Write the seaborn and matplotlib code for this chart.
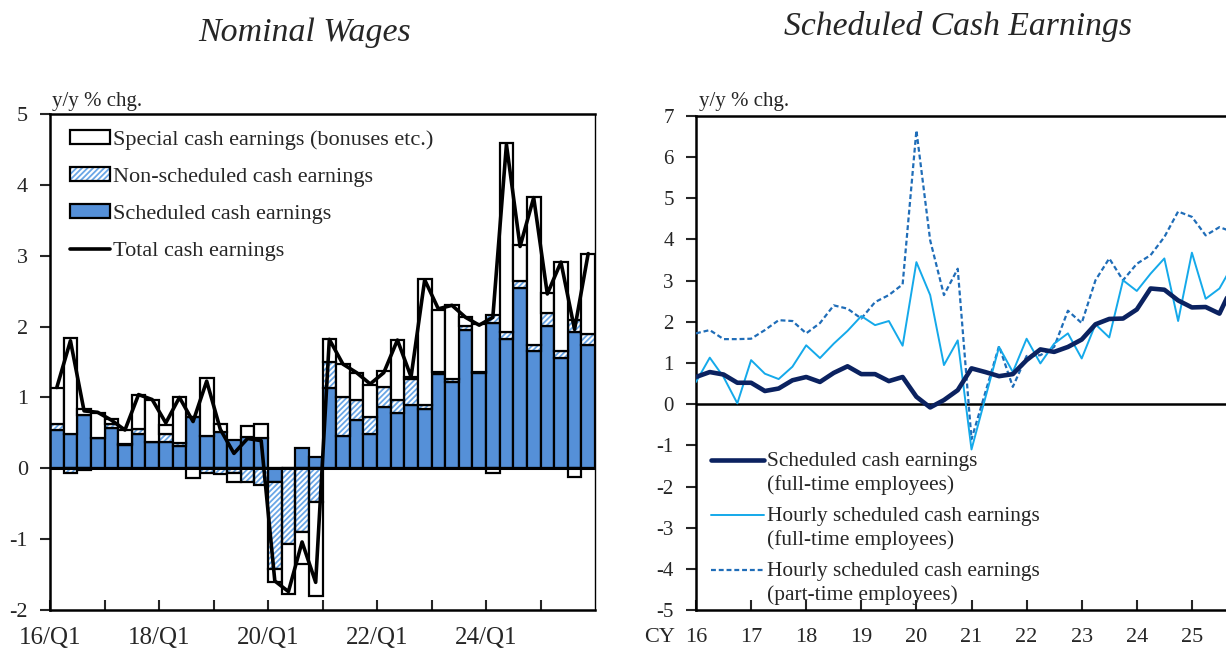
import numpy as np
import matplotlib
matplotlib.use("Agg")
import matplotlib.pyplot as plt
import seaborn as sns
from matplotlib.patches import Patch
from matplotlib.lines import Line2D
from matplotlib.legend_handler import HandlerLine2D, HandlerTuple

# ---- left panel: nominal wages, y/y % chg., quarterly 16/Q1 - 25/Q4
quarters = [f"{y}/Q{q}" for y in range(16, 26) for q in range(1, 5)]
scheduled = [0.54, 0.49, 0.75, 0.43, 0.57, 0.33, 0.49, 0.37, 0.37, 0.31,
             0.72, 0.46, 0.51, 0.40, 0.44, 0.43, -0.20, 0.00, 0.28, 0.16,
             1.14, 0.46, 0.68, 0.49, 0.87, 0.78, 0.90, 0.84, 1.33, 1.22,
             1.95, 1.35, 2.05, 1.83, 2.54, 1.65, 2.01, 1.56, 1.92, 1.74]
non_scheduled = [0.09, -0.07, -0.03, 0.00, 0.06, 0.01, 0.07, 0.00, 0.11, 0.05,
                 0.00, -0.06, -0.08, -0.06, -0.19, -0.24, -1.22, -1.07, -0.90, -0.48,
                 0.36, 0.54, 0.28, 0.23, 0.28, 0.18, 0.36, 0.06, 0.03, 0.04,
                 0.06, 0.01, 0.11, 0.10, 0.10, 0.09, 0.18, 0.10, 0.17, 0.15]
special = [0.50, 1.35, 0.08, 0.35, 0.06, 0.20, 0.47, 0.60, 0.13, 0.64,
           -0.14, 0.82, 0.12, -0.13, 0.16, 0.19, -0.19, -0.70, -0.45, -1.32,
           0.33, 0.47, 0.38, 0.46, 0.22, 0.85, 0.03, 1.77, 0.88, 1.04,
           0.12, 0.67, -0.07, 2.66, 0.51, 2.09, 0.28, 1.25, -0.12, 1.13]
total = [1.14, 1.80, 0.81, 0.79, 0.68, 0.54, 1.04, 0.97, 0.64, 1.00,
         0.66, 1.23, 0.55, 0.21, 0.42, 0.39, -1.59, -1.74, -1.04, -1.61,
         1.82, 1.47, 1.35, 1.19, 1.35, 1.81, 1.29, 2.66, 2.25, 2.30,
         2.13, 2.02, 2.13, 4.57, 3.13, 3.82, 2.46, 2.91, 1.96, 3.03]

# ---- right panel: scheduled cash earnings, quarterly CY16 Q1 - CY25 Q4
cal_years = list(range(16, 26))
sched_full = [0.66, 0.78, 0.72, 0.52, 0.52, 0.32, 0.38, 0.58, 0.66, 0.54,
              0.76, 0.92, 0.73, 0.73, 0.56, 0.66, 0.18, -0.08, 0.10, 0.34,
              0.87, 0.78, 0.68, 0.73, 1.07, 1.33, 1.27, 1.39, 1.57, 1.94,
              2.07, 2.08, 2.30, 2.81, 2.78, 2.52, 2.35, 2.36, 2.20, 2.90]
hourly_full = [0.54, 1.13, 0.66, 0.02, 1.07, 0.74, 0.61, 0.91, 1.43, 1.12,
               1.47, 1.78, 2.14, 1.92, 2.02, 1.42, 3.45, 2.65, 0.95, 1.55,
               -1.10, 0.15, 1.39, 0.78, 1.59, 0.99, 1.47, 1.72, 1.11, 1.94,
               1.62, 3.01, 2.75, 3.17, 3.54, 2.02, 3.68, 2.56, 2.81, 3.40]
hourly_part = [1.72, 1.80, 1.58, 1.58, 1.59, 1.80, 2.04, 2.02, 1.72, 1.97,
               2.40, 2.32, 2.08, 2.48, 2.65, 2.91, 6.65, 3.98, 2.65, 3.29,
               -0.85, 0.28, 1.41, 0.42, 1.17, 1.19, 1.39, 2.27, 1.97, 3.01,
               3.54, 3.01, 3.41, 3.62, 4.06, 4.68, 4.55, 4.10, 4.30, 4.18]

BAR_BLUE = "#5590d8"
HATCH_BLUE = "#6aa6e6"
NAVY = "#0b2260"
LIGHT = "#14a9ea"
MID = "#1f6db8"

sns.set_theme(style="white")
plt.rcParams["font.family"] = ["Liberation Serif", "DejaVu Serif"]
plt.rcParams["hatch.linewidth"] = 1.3
plt.rcParams["axes.edgecolor"] = "black"

fig = plt.figure(figsize=(12.26, 6.48), dpi=100)
ax1 = fig.add_axes([50 / 1226, 38 / 648, 545 / 1226, 496 / 648])
ax2 = fig.add_axes([696 / 1226, 38 / 648, 551 / 1226, 494 / 648])


def stack_bottoms(layers):
    pos = np.zeros(len(layers[0]))
    neg = np.zeros(len(layers[0]))
    out = []
    for v in layers:
        v = np.asarray(v, dtype=float)
        out.append(np.where(v >= 0, pos, neg))
        pos = pos + np.clip(v, 0, None)
        neg = neg + np.clip(v, None, 0)
    return out


x = np.arange(len(quarters))
b_s, b_n, b_x = stack_bottoms([scheduled, non_scheduled, special])

ax1.bar(x, scheduled, bottom=b_s, width=1.0, color=BAR_BLUE,
        edgecolor="black", linewidth=1.6, zorder=2)
ax1.bar(x, non_scheduled, bottom=b_n, width=1.0, color="white",
        edgecolor=HATCH_BLUE, hatch="//////", linewidth=0, zorder=2)
ax1.bar(x, non_scheduled, bottom=b_n, width=1.0, fill=False,
        edgecolor="black", linewidth=1.6, zorder=2)
ax1.bar(x, special, bottom=b_x, width=1.0, color="white",
        edgecolor="black", linewidth=1.6, zorder=2)
ax1.axhline(0, color="black", lw=2.2, zorder=3)
sns.lineplot(x=x, y=total, ax=ax1, color="black", lw=2.6, zorder=4)

ax1.set_xlim(-0.5, len(quarters) - 0.5)
ax1.set_ylim(-2, 5)
ax1.set_yticks(range(-2, 6))
ax1.set_yticklabels([str(v) for v in range(-2, 6)])
xt = np.arange(-0.5, len(quarters) - 1, 4)
ax1.set_xticks(xt)
ax1.set_xticklabels([quarters[int(t + 0.5)] if i % 2 == 0 else ""
                     for i, t in enumerate(xt)])

for sp in ["left", "bottom", "top"]:
    ax1.spines[sp].set_linewidth(1.8)
ax1.spines["right"].set_linewidth(1.0)
ax1.tick_params(axis="y", direction="out", length=7, width=1.5, pad=9,
                labelsize=16, left=True)
ax1.tick_params(axis="x", direction="in", length=7, width=1.5, pad=12.5,
                labelsize=18, bottom=True)

h_special = Patch(facecolor="white", edgecolor="black", linewidth=1.6)
h_non = (Patch(facecolor="white", edgecolor=HATCH_BLUE, hatch="//////", linewidth=0),
         Patch(fill=False, edgecolor="black", linewidth=1.6))
h_sched = Patch(facecolor=BAR_BLUE, edgecolor="black", linewidth=1.6)
h_total = Line2D([], [], color="black", lw=2.6)
ax1.legend([h_special, h_non, h_sched, h_total],
           ["Special cash earnings (bonuses etc.)", "Non-scheduled cash earnings",
            "Scheduled cash earnings", "Total cash earnings"],
           handler_map={tuple: HandlerTuple(ndivide=1)},
           loc="upper left", bbox_to_anchor=(0.036, 0.968), frameon=False,
           fontsize=16, handlelength=1.8, handleheight=0.6, handletextpad=0.14,
           labelspacing=0.78, borderpad=0, borderaxespad=0)
ax1.text(0.004, 1.007, "y/y % chg.", transform=ax1.transAxes, fontsize=15,
         ha="left", va="bottom")

# ---- right panel
t = 2016 + np.arange(len(sched_full)) / 4
sns.lineplot(x=t, y=hourly_part, ax=ax2, color=MID, lw=1.6,
             dashes=False, zorder=3).lines[-1].set_dashes((2.2, 1.3))
sns.lineplot(x=t, y=hourly_full, ax=ax2, color=LIGHT, lw=1.4, zorder=3)
sns.lineplot(x=t, y=sched_full, ax=ax2, color=NAVY, lw=3.3, zorder=4)
ax2.axhline(0, color="black", lw=1.8, zorder=2)

ax2.set_xlim(2016, 2026)
ax2.set_ylim(-5, 7)
ax2.set_yticks(range(-5, 8))
ax2.set_yticklabels([str(v) for v in range(-5, 8)])
ax2.set_xticks([2000 + y for y in cal_years])
ax2.set_xticklabels([str(y) for y in cal_years])
for sp in ["left", "bottom", "top"]:
    ax2.spines[sp].set_linewidth(1.8)
ax2.spines["right"].set_visible(False)
ax2.tick_params(axis="y", direction="out", length=7, width=1.5, pad=9,
                labelsize=15, left=True)
ax2.tick_params(axis="x", direction="in", length=7, width=1.5, pad=13,
                labelsize=16, bottom=True)
ax2.annotate("CY", xy=(2016, 0), xycoords=("data", "axes fraction"),
             xytext=(-15, -13), textcoords="offset points", ha="right",
             va="top", fontsize=16)
ax2.text(0.006, 1.01, "y/y % chg.", transform=ax2.transAxes, fontsize=15,
         ha="left", va="bottom")


class FirstLineHandler(HandlerLine2D):
    # put the key next to the first line of a two-line label
    def create_artists(self, legend, orig_handle, xdescent, ydescent,
                       width, height, fontsize, trans):
        arts = super().create_artists(legend, orig_handle, xdescent, ydescent,
                                      width, height, fontsize, trans)
        for a in arts:
            a.set_ydata(np.asarray(a.get_ydata()) + 0.6 * fontsize)
        return arts


k_sched = Line2D([], [], color=NAVY, lw=3.3)
k_full = Line2D([], [], color=LIGHT, lw=1.4)
k_part = Line2D([], [], color=MID, lw=1.6, dashes=(2.2, 1.3))
hl = FirstLineHandler()
leg2 = ax2.legend([k_sched, k_full, k_part],
                  ["Scheduled cash earnings\n(full-time employees)",
                   "Hourly scheduled cash earnings\n(full-time employees)",
                   "Hourly scheduled cash earnings\n(part-time employees)"],
                  handler_map={k_sched: hl, k_full: hl, k_part: hl},
                  loc="lower left", bbox_to_anchor=(0.027, 0.01), frameon=False,
                  fontsize=15.4, handlelength=2.5, handletextpad=0.14,
                  labelspacing=0.55, borderpad=0, borderaxespad=0)
for txt in leg2.get_texts():
    txt.set_linespacing(1.3)

fig.text(305 / 1226, 1 - 33 / 648, "Nominal Wages", ha="center", va="center",
         fontsize=24.4, style="italic")
fig.text(958 / 1226, 1 - 27 / 648, "Scheduled Cash Earnings", ha="center",
         va="center", fontsize=24.2, style="italic")

fig.savefig("out.png", dpi=100)
